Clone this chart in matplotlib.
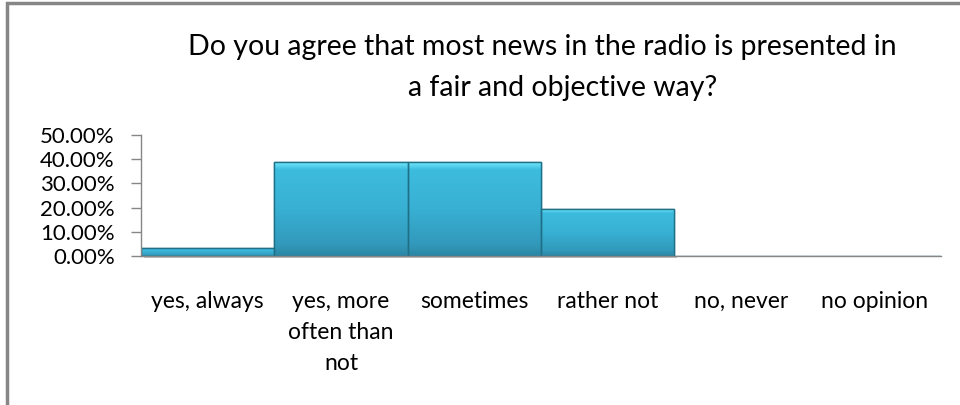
import numpy as np
import matplotlib.pyplot as plt
from matplotlib.patches import Rectangle
from matplotlib.colors import LinearSegmentedColormap
from matplotlib.ticker import FuncFormatter

categories = ['yes, always', 'yes, more\noften than\nnot', 'sometimes',
              'rather not', 'no, never', 'no opinion']
shares = [3.23, 38.71, 38.71, 19.35, 0.0, 0.0]
yticks = [0, 10, 20, 30, 40, 50]
title_lines = ['Do you agree that most news in the radio is presented in',
               'a fair and objective way?']

plt.rcParams['font.family'] = ['Lato', 'DejaVu Sans']

fig = plt.figure(figsize=(9.6, 4.05), dpi=100)
ax = fig.add_axes([0.1469, 0.368, 0.8333, 0.2988])

x = np.arange(len(categories))
bars = ax.bar(x, shares, width=1.0, color='#3ab4d6', edgecolor='#1f6f87',
              linewidth=1.0, zorder=2)

# vertical shading inside each bar, clipped to the bar outline
grad = LinearSegmentedColormap.from_list('bevel', [
    (0.0, '#2c86a4'), (0.12, '#3299bb'), (0.5, '#38b0d3'),
    (0.92, '#3dbcde'), (0.96, '#58d3ee'), (1.0, '#72e8fa')])
ramp = np.linspace(0, 1, 256).reshape(-1, 1)
for b, v in zip(bars, shares):
    if v <= 0:
        continue
    x0 = b.get_x()
    w = b.get_width()
    img = ax.imshow(ramp, cmap=grad, aspect='auto', origin='lower',
                    extent=(x0, x0 + w, 0, v), zorder=2.5, interpolation='bilinear')
    img.set_clip_path(b)
    # thin drop shadow along the base
    ax.add_patch(Rectangle((x0 + 0.02, -0.9), w, 0.9, facecolor='#c4c4c4',
                           edgecolor='none', clip_on=False, zorder=1))
    # dark outline drawn over the shading
    ax.add_patch(Rectangle((x0, 0), w, v, fill=False, edgecolor='#1f6f87',
                           linewidth=1.0, zorder=3))

ax.set_xlim(-0.5, len(categories) - 0.5)
ax.set_ylim(0, 50)
ax.set_yticks(yticks)
ax.yaxis.set_major_formatter(FuncFormatter(lambda v, p: f'{v:.2f}%'))
ax.set_xticks(x)
ax.set_xticklabels(categories, fontsize=16.5, linespacing=1.6, va='top')
ax.tick_params(axis='x', length=0, pad=25)
ax.tick_params(axis='y', length=7, width=1, color='#868686', labelsize=16, pad=12)

for side in ['top', 'right']:
    ax.spines[side].set_visible(False)
for side in ['left', 'bottom']:
    ax.spines[side].set_color('#868686')
    ax.spines[side].set_linewidth(1.0)
    ax.spines[side].set_zorder(4)

fig.text(542 / 960, 1 - 47 / 405, title_lines[0], ha='center', va='center', fontsize=20.5)
fig.text(563 / 960, 1 - 88 / 405, title_lines[1], ha='center', va='center', fontsize=20.5)

# chart area border
fig.patches.append(Rectangle((6.5 / 960, -0.1), 1.1, 1.1 - 3.0 / 405,
                             transform=fig.transFigure, fill=False,
                             edgecolor='#868686', linewidth=2.5))

fig.savefig('out.png', dpi=100)
